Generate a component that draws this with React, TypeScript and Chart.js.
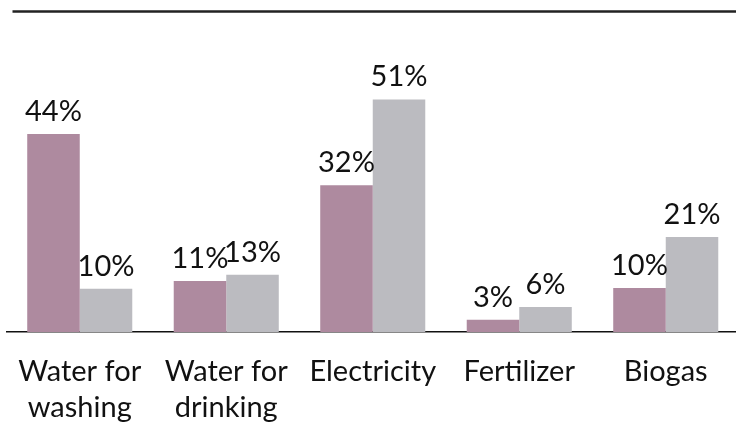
import React, { useEffect, useRef } from "react";
import { Chart, registerables } from "chart.js";

Chart.register(...registerables);

const categories: string[][] = [
  ["Water for", "washing"],
  ["Water for", "drinking"],
  ["Electricity"],
  ["Fertilizer"],
  ["Biogas"],
];
const seriesA: number[] = [43.6, 11.2, 32.3, 2.7, 9.7];
const seriesB: number[] = [9.5, 12.6, 51.2, 5.5, 20.9];
const seriesAColor = "#AE8A9F";
const seriesBColor = "#BBBBC0";
const FONT = "Lato, 'Open Sans', sans-serif";

const decorPlugin = {
  id: "decor",
  afterDraw(chart: any) {
    const ctx = chart.ctx;
    ctx.save();
    // top rule
    ctx.strokeStyle = "#222";
    ctx.lineWidth = 2.5;
    ctx.beginPath();
    ctx.moveTo(12.5, 11.5);
    ctx.lineTo(chart.width, 11.5);
    ctx.stroke();
    // data labels
    ctx.fillStyle = "#111";
    ctx.font = `29px ${FONT}`;
    ctx.textAlign = "center";
    ctx.textBaseline = "alphabetic";
    chart.data.datasets.forEach((ds: any, i: number) => {
      const meta = chart.getDatasetMeta(i);
      meta.data.forEach((bar: any, j: number) => {
        const v = ds.data[j];
        ctx.fillText(`${Math.round(v)}%`, bar.x, bar.y - 13);
      });
    });
    ctx.restore();
  },
};

export default function App() {
  const ref = useRef<HTMLCanvasElement>(null);
  useEffect(() => {
    if (!ref.current) return;
    const chart = new Chart(ref.current, {
      type: "bar",
      data: {
        labels: categories,
        datasets: [
          { data: seriesA, backgroundColor: seriesAColor, borderWidth: 0 },
          { data: seriesB, backgroundColor: seriesBColor, borderWidth: 0 },
        ],
      },
      options: {
        responsive: false,
        animation: false,
        events: [],
        layout: { padding: { left: 6.5, right: 7, top: 14, bottom: 0 } },
        plugins: { legend: { display: false }, tooltip: { enabled: false }, title: { display: false } },
        datasets: { bar: { categoryPercentage: 0.717, barPercentage: 1 } },
        scales: {
          x: {
            grid: { display: false, drawTicks: false },
            border: { display: true, color: "#111", width: 1.5 },
            ticks: {
              color: "#111",
              font: { family: FONT, size: 29, lineHeight: 1.26 },
              padding: 21,
              maxRotation: 0,
              autoSkip: false,
            },
            afterFit: (scale: any) => {
              scale.height = 92;
              scale.paddingLeft = 0;
              scale.paddingRight = 0;
            },
          },
          y: { display: false, min: 0, max: 70 },
        },
      },
      plugins: [decorPlugin],
    });
    return () => chart.destroy();
  }, []);
  return (
    <div style={{ position: "fixed", left: 0, top: 0, width: 736, height: 424, overflow: "hidden", background: "#fff" }}>
      <canvas ref={ref} width={746} height={424} style={{ display: "block" }} />
    </div>
  );
}
